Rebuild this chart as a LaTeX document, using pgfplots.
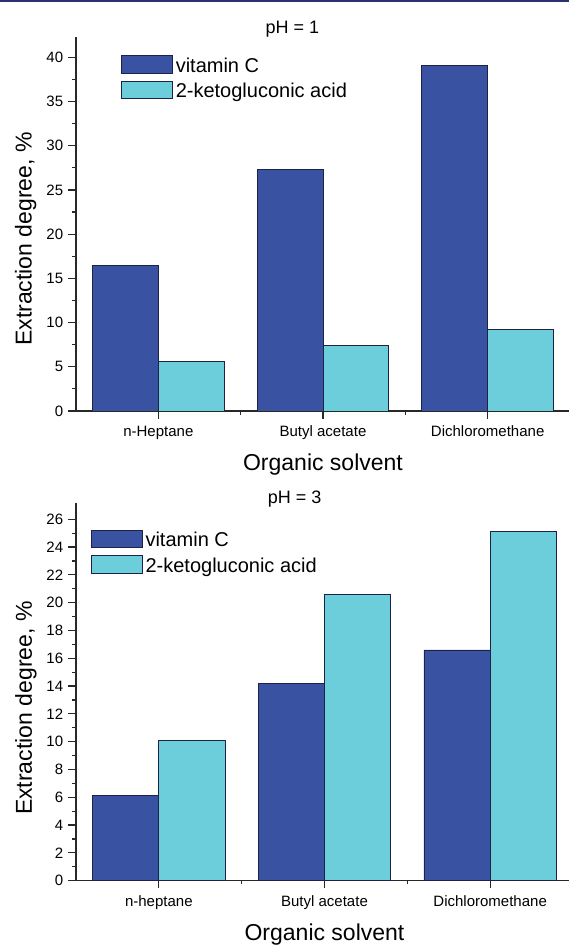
\documentclass[border=0pt]{standalone}
\usepackage{fontspec}
\setmainfont{Liberation Sans}
\usepackage{pgfplots}
\pgfplotsset{compat=1.18}
\definecolor{vitc}{RGB}{57,82,162}
\definecolor{keto}{RGB}{108,205,219}
\definecolor{navy}{RGB}{43,48,112}
\definecolor{axc}{RGB}{40,40,40}
\definecolor{edge}{RGB}{30,34,70}
\pgfplotsset{
  myaxis/.style={
    scale only axis,
    xmin=0.5, xmax=3.5, ymin=0,
    axis x line=bottom, axis y line=left,
    axis line style={-, line width=1.2pt, axc},
    tick style={line width=1.2pt, axc},
    tick align=outside,
    major tick length=7.7pt, minor tick length=3.6pt,
    xtick={1,2,3}, minor xtick={1.5,2.5},
    minor y tick num=1,
    /pgf/number format/assume math mode=true,
    ticklabel style={font=\fontsize{15}{18}\selectfont},
    xticklabel style={anchor=base, inner sep=0pt, yshift=-17.6pt},
    yticklabel style={anchor=east, inner sep=0pt, xshift=-5pt},
    xlabel style={font=\fontsize{23}{27}\selectfont, at={(rel axis cs:0.5,0)}, anchor=base, yshift=-60pt},
    ylabel style={font=\fontsize{23}{27}\selectfont, anchor=base},
    title style={font=\fontsize{18}{21}\selectfont, anchor=base},
    xlabel={Organic solvent},
    ylabel={Extraction degree, \%},
    legend style={draw=none, fill=none, inner sep=0pt, outer sep=0pt,
      anchor=north west, row sep=7pt, column sep=3pt,
      font=\fontsize{20}{24}\selectfont, nodes={inner sep=0pt}},
    legend cell align=left,
  },
  mybar/.style={ybar, bar width=0.4, draw=edge, line width=0.8pt,
    legend image code/.code={\draw[##1] (0pt,-7.3pt) rectangle (51pt,10pt);}},
}
\begin{document}
\begin{tikzpicture}
\useasboundingbox (0,0) rectangle (569pt,945pt);
\fill[navy] (0,942.7pt) rectangle (569pt,945pt);
\begin{axis}[myaxis,
  at={(76pt,534pt)}, anchor=south west,
  width=494pt, height=374pt, ymax=42.3,
  ytick={0,5,...,40},
  xticklabels={n-Heptane, Butyl acetate, Dichloromethane},
  title={pH = 1},
  title style={at={(rel axis cs:0.438,1)}, yshift=-2.5pt},
  ylabel style={at={(rel axis cs:-0.09,0.46)}},
  legend style={at={(rel axis cs:0.091,0.951)}},
]
\addplot[mybar, bar shift=-0.2, fill=vitc] coordinates {(1,16.5) (2,27.3) (3,39.05)};
\addplot[mybar, bar shift=0.2, fill=keto] coordinates {(1,5.6) (2,7.45) (3,9.25)};
\legend{vitamin C, 2-ketogluconic acid}
\end{axis}
\begin{axis}[myaxis,
  at={(76pt,64.3pt)}, anchor=south west,
  width=497pt, height=377.4pt, ymax=27.15,
  ytick={0,2,...,26},
  xticklabels={n-heptane, Butyl acetate, Dichloromethane},
  title={pH = 3},
  title style={at={(rel axis cs:0.44,1)}, yshift=-6pt},
  ylabel style={at={(rel axis cs:-0.089,0.457)}},
  legend style={at={(rel axis cs:0.0297,0.929)}},
]
\addplot[mybar, bar shift=-0.2, fill=vitc] coordinates {(1,6.12) (2,14.18) (3,16.6)};
\addplot[mybar, bar shift=0.2, fill=keto] coordinates {(1,10.07) (2,20.58) (3,25.14)};
\legend{vitamin C, 2-ketogluconic acid}
\end{axis}
\end{tikzpicture}
\end{document}
